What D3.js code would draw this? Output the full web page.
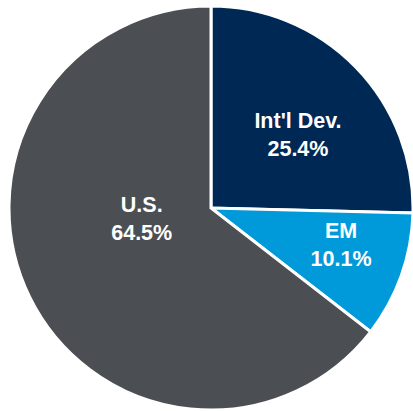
<!DOCTYPE html>
<html>
<head>
<meta charset="utf-8">
<script src="https://cdn.jsdelivr.net/npm/d3@7"></script>
<style>
  html, body { margin: 0; padding: 0; background: #fff; }
  svg { display: block; }
</style>
</head>
<body>
<svg id="pie"></svg>
<script>
// regions and their share of the portfolio (%)
const regions = ["Int'l Dev.", "EM", "U.S."];
const shares = [25.4, 10.1, 64.5];
const colors = ["#002855", "#009ADA", "#4B4F54"];

const width = 413, height = 411;
const cx = 211, cy = 208, radius = 202;

const svg = d3.select('#pie')
    .attr('width', width)
    .attr('height', height);

const g = svg.append('g').attr('transform', `translate(${cx},${cy})`);

const data = regions.map((name, i) => ({ name, value: shares[i], color: colors[i] }));

const pie = d3.pie().value((d) => d.value).sort(null);
const arc = d3.arc().innerRadius(0).outerRadius(radius);

const arcs = pie(data);

g.selectAll('path')
    .data(arcs)
    .join('path')
    .attr('d', arc)
    .attr('fill', (d) => d.data.color)
    .attr('stroke', '#fff')
    .attr('stroke-width', 3)
    .attr('stroke-linejoin', 'miter');

// label placement: angle shift (deg) and distance from center, tuned per slice
const labelPlace = [
    { shift: 4, r: 114 },
    { shift: -4, r: 135 },
    { shift: 18, r: 70 },
];

const labels = g.selectAll('g.label')
    .data(arcs)
    .join('g')
    .attr('class', 'label')
    .attr('transform', (d, i) => {
        const a = (d.startAngle + d.endAngle) / 2 + labelPlace[i].shift * Math.PI / 180;
        const r = labelPlace[i].r;
        return `translate(${r * Math.sin(a)},${-r * Math.cos(a)})`;
    });

labels.append('text')
    .attr('text-anchor', 'middle')
    .attr('y', -6)
    .attr('fill', '#fff')
    .style('font-family', 'Arial, "Liberation Sans", sans-serif')
    .style('font-weight', 'bold')
    .style('font-size', '21.5px')
    .text((d) => d.data.name);

labels.append('text')
    .attr('text-anchor', 'middle')
    .attr('y', 22)
    .attr('fill', '#fff')
    .style('font-family', 'Arial, "Liberation Sans", sans-serif')
    .style('font-weight', 'bold')
    .style('font-size', '21.5px')
    .text((d) => d.data.value.toFixed(1) + '%');
</script>
</body>
</html>
